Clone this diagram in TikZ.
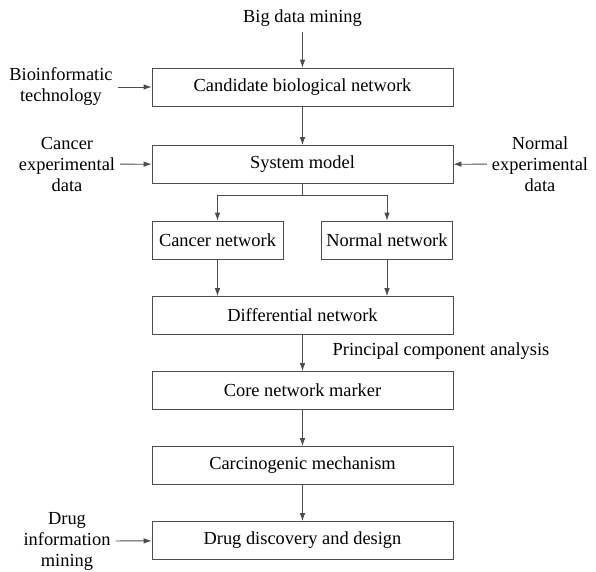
\documentclass[tikz,border=0pt]{standalone}
\usepackage{fontspec}
\setmainfont{Liberation Serif}
\usetikzlibrary{arrows.meta}
\definecolor{trait}{rgb}{0.3,0.3,0.3}

\begin{document}
\begin{tikzpicture}[x=1pt, y=-1pt, ->, >={Latex[length=8pt,width=5.5pt]}, thin, draw=trait,
  font=\fontsize{18.4}{21}\selectfont]
  \tikzstyle{box}=[rectangle, draw=trait, line width=0.8pt, text=black, inner sep=0pt, minimum width=301pt, minimum height=38pt]
  \tikzstyle{half}=[box, minimum width=131pt]
  \tikzstyle{lbl}=[align=center, text=black, inner sep=5pt]
  \tikzstyle{flow}=[draw=trait, line width=0.8pt]
  \useasboundingbox (0,0) rectangle (596,571);

	\node[box]  (Cand) at (302.5,87)    {Candidate biological network};
	\node[box]  (Sys)  at (302.5,164.5) {System model};
	\node[half] (Can)  at (217.5,240)   {Cancer network};
	\node[half] (Nor)  at (387,240)     {Normal network};
	\node[box]  (Diff) at (302.5,315.5) {Differential network};
	\node[box]  (Core) at (302.5,390.5) {Core network marker};
	\node[box]  (Carc) at (302.5,465.5) {Carcinogenic mechanism};
	\node[box]  (Drug) at (302.5,540.5) {Drug discovery and design};

	\node[lbl] (Big)  at (302.5,18) {Big data mining};
	\node[lbl] (Bio)  at (61,87)    {Bioinformatic\\technology};
	\node[lbl] (CanD) at (67,164)   {Cancer\\experimental\\data};
	\node[lbl] (NorD) at (540,164)  {Normal\\experimental\\data};
	\node[lbl] (DrgD) at (67,541)   {Drug\\information\\mining};
	\node[lbl] (Pca)  at (441,351)  {Principal component analysis};

	\coordinate (Split) at (302.5,195);

	\path[flow]
		(Big)  edge (Cand)
		(Bio)  edge (Cand)
		(Cand) edge (Sys)
		(CanD) edge (Sys)
		(NorD) edge (Sys)
		(Diff) edge (Core)
		(Core) edge (Carc)
		(Carc) edge (Drug)
		(DrgD) edge (Drug)
		;
	\draw[flow, -] (Sys) -- (Split);
	\draw[flow] (Split) -| (Can);
	\draw[flow] (Split) -| (Nor);
	\draw[flow] (Can) -- (Can |- Diff.north);
	\draw[flow] (Nor) -- (Nor |- Diff.north);

\end{tikzpicture}
\end{document}
